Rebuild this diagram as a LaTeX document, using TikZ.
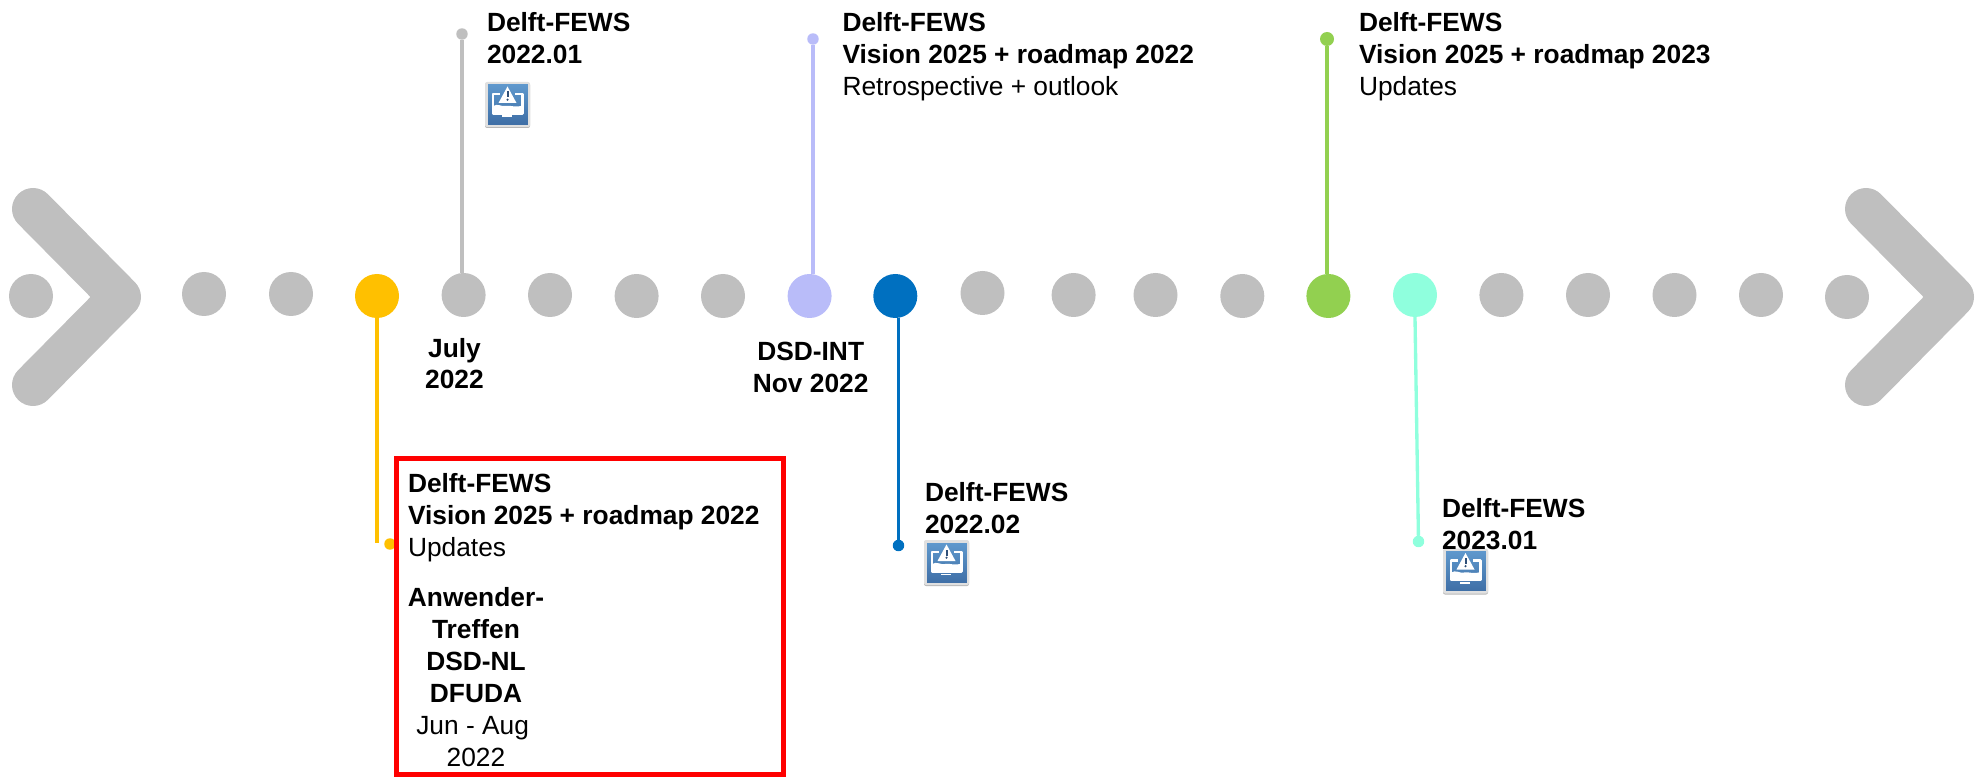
\documentclass[tikz,border=0pt]{standalone}
\usepackage{fontspec}
\setmainfont{Liberation Sans}
\newcommand{\lbl}{\fontsize{19.75pt}{23.8pt}\selectfont}
\tikzset{
  x=0.75pt,y=-0.75pt,
  dot/.style={circle,draw=none,fill=#1,minimum size=33pt,inner sep=0pt,outer sep=0pt},
  pin/.style={circle,draw=none,fill=#1,minimum size=8.6pt,inner sep=0pt,outer sep=0pt},
  stem/.style={draw=#1,line width=2.5pt},
  chev/.style={draw=grayc,line width=31.5pt,line cap=round,line join=round},
  lab/.style={inner sep=0pt,outer sep=0pt,align=left,anchor=north west,font=\lbl},
  clab/.style={inner sep=0pt,outer sep=0pt,align=center,anchor=north,font=\lbl},
  warnicon/.pic={
    \fill[black!28,rounded corners=1.5pt] (0,1) rectangle (45,46);
    \fill[black!12,rounded corners=1.5pt] (0,0) rectangle (45,45);
    \foreach \i in {0,...,39}{
      \pgfmathsetmacro{\pct}{100-2.5*\i}
      \fill[iconT!\pct!iconB] (2.5,2.5+\i) rectangle (42.5,3.7+\i);
    }
    \draw[white,line width=1.7pt,line join=round] (15,12) -- (8,12) -- (8,31.5) -- (37.5,31.5) -- (37.5,12) -- (30,12);
    \fill[white] (8,24) .. controls (13,21) and (16,25) .. (21,24) .. controls (26,23) and (30,26) .. (37.5,23.5) -- (37.5,31.5) -- (8,31.5) -- cycle;
    \fill[white] (22.5,4.5) -- (31.5,21) -- (13.5,21) -- cycle;
    \fill[iconD] (21.5,9.5) rectangle (23.5,15.5);
    \fill[iconD] (22.5,17.7) circle (1.2);
    \fill[white] (17,33.5) rectangle (27,35.3);
  }
}
\definecolor{grayc}{HTML}{BFBFBF}
\definecolor{yellowc}{HTML}{FFC000}
\definecolor{lavc}{HTML}{B9BCF9}
\definecolor{bluec}{HTML}{0070C0}
\definecolor{greenc}{HTML}{92D050}
\definecolor{aquac}{HTML}{8FFFDD}
\definecolor{iconT}{HTML}{5F98CD}
\definecolor{iconB}{HTML}{3F6FA6}
\definecolor{iconD}{HTML}{2F4F78}
\begin{document}
\begin{tikzpicture}
\useasboundingbox (0,0) rectangle (1975,777);
% chevrons
\draw[chev] (33,209) -- (120,297) -- (33,385);
\draw[chev] (1866,209) -- (1953,297) -- (1866,385);
% timeline dots
\node[dot=grayc] (d1) at (31,296) {};
\node[dot=grayc] (d2) at (204,294) {};
\node[dot=grayc] (d3) at (291,294) {};
\node[dot=yellowc] (dy) at (377,296) {};
\node[dot=grayc] (dj) at (463.6,295) {};
\node[dot=grayc] (d5) at (550,295) {};
\node[dot=grayc] (d6) at (636.6,296) {};
\node[dot=grayc] (d7) at (723,296) {};
\node[dot=lavc] (dl) at (809.6,296) {};
\node[dot=bluec] (db) at (895.3,296) {};
\node[dot=grayc] (d8) at (982.5,293) {};
\node[dot=grayc] (d9) at (1073.6,295) {};
\node[dot=grayc] (d10) at (1155.5,295) {};
\node[dot=grayc] (d11) at (1242.3,296) {};
\node[dot=greenc] (dg) at (1328.4,296) {};
\node[dot=aquac] (da) at (1415,295) {};
\node[dot=grayc] (d12) at (1501.4,295) {};
\node[dot=grayc] (d13) at (1588,295) {};
\node[dot=grayc] (d14) at (1674.5,295) {};
\node[dot=grayc] (d15) at (1761,295) {};
\node[dot=grayc] (d16) at (1847,297) {};
% pins and stems
\node[pin=grayc] (pj) at (462,34) {};
\node[pin=lavc] (pl) at (813,39) {};
\node[pin=greenc,minimum size=10.5pt] (pg) at (1327,39) {};
\node[pin=yellowc] (py) at (390,544) {};
\node[pin=bluec] (pb) at (898.5,545.5) {};
\node[pin=aquac] (pa) at (1418.5,541.5) {};
\coordinate (ey) at (377,543);
\draw[stem=grayc] (pj) -- (dj.north -| pj);
\draw[stem=lavc] (pl) -- (dl.north -| pl);
\draw[stem=greenc] (pg) -- (dg.north -| pg);
\draw[stem=yellowc] (dy.south) -- (ey);
\draw[stem=bluec] (db.south -| pb) -- (pb);
\draw[stem=aquac] (da.south) -- (pa);
% red frame
\node[draw=red,line width=3.75pt,inner sep=0pt,outer sep=0pt,minimum width=289.9pt,minimum height=237pt,anchor=north west] (frame) at (396.5,458) {};
% icons
\pic at (485,82) {warnicon};
\pic at (924,540) {warnicon};
\pic at (1443,548.5) {warnicon};
% labels
\node[lab] (t1) at (487,12.5) {\textbf{Delft-FEWS}\\\textbf{2022.01}};
\node[lab] (t2) at (842.5,12.5) {\textbf{Delft-FEWS}\\\textbf{Vision 2025 + roadmap 2022}\\Retrospective + outlook};
\node[lab] (t3) at (1359,12.5) {\textbf{Delft-FEWS}\\\textbf{Vision 2025 + roadmap 2023}\\Updates};
\node[clab] (t4) at (454.5,338) {\textbf{July}\\\textbf{2022}};
\node[clab] (t5) at (810.7,342) {\textbf{DSD-INT}\\\textbf{Nov 2022}};
\node[lab] (t6) at (408,473.5) {\textbf{Delft-FEWS}\\\textbf{Vision 2025 + roadmap 2022}\\Updates};
\node[clab,font=\fontsize{19.75pt}{24pt}\selectfont] (t7) at (476,587) {\textbf{Anwender-}\\\textbf{Treffen}\\\textbf{DSD-NL}\\\textbf{DFUDA}\\Jun - Aug\rule{5pt}{0pt}\\2022};
\node[lab] (t8) at (925,482.5) {\textbf{Delft-FEWS}\\\textbf{2022.02}};
\node[lab] (t9) at (1442,498.5) {\textbf{Delft-FEWS}\\\textbf{2023.01}};
\end{tikzpicture}
\end{document}
